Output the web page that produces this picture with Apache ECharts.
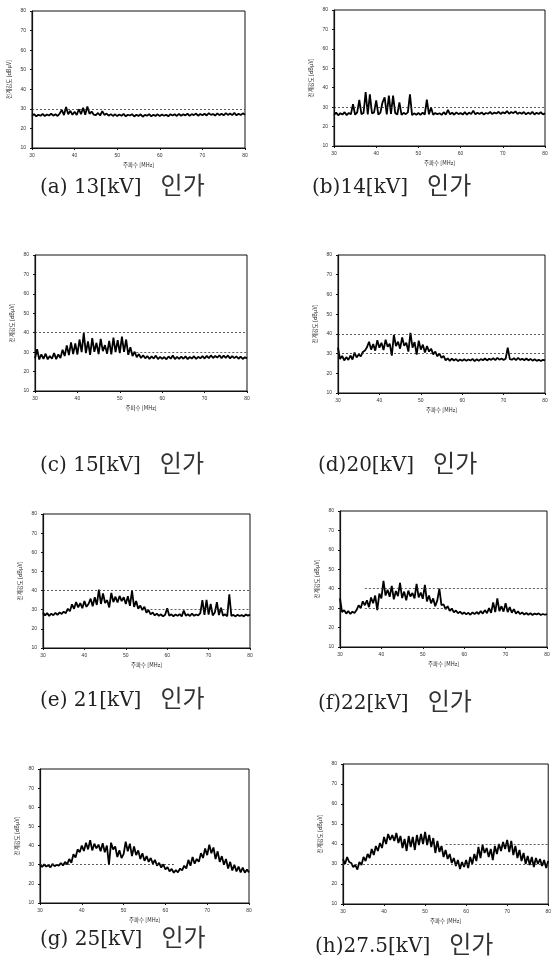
<!DOCTYPE html>
<html>
<head>
<meta charset="utf-8">
<script src="https://cdn.jsdelivr.net/npm/echarts@6/dist/echarts.min.js"></script>
<style>
html,body{margin:0;padding:0;background:#fff;}
#chart{width:554px;height:960px;}
</style>
</head>
<body>
<div id="chart"></div>
<script>
// Frequency sampling: 30 MHz to 80 MHz, step 0.5 MHz
var freqStart = 30, freqStep = 0.5;
var xTicks = [30, 40, 50, 60, 70, 80];
var yTicks = [10, 20, 30, 40, 50, 60, 70, 80];
var yName = '전계강도 [dBμV]';
var xName = '주파수 [MHz]';

var captionLabels = ['(a) 13[kV]', '(b)14[kV]', '(c) 15[kV]', '(d)20[kV]',
                     '(e) 21[kV]', '(f)22[kV]', '(g) 25[kV]', '(h)27.5[kV]'];
var captionSuffix = '인가';

var kv13 = [26.4,27.3,26.2,27.0,26.5,27.4,26.3,27.1,26.6,27.5,
  26.5,27.2,26.4,27.6,29.5,26.8,31.0,27.2,29.0,27.0,
  28.5,26.9,29.8,27.3,30.5,27.0,31.2,27.5,28.6,27.0,
  26.8,27.9,26.6,28.8,26.9,27.6,26.5,27.3,26.4,27.2,
  26.3,27.1,26.5,27.4,26.2,27.0,26.6,27.3,26.1,27.0,
  26.4,27.2,26.0,26.9,26.5,27.3,26.2,27.0,26.4,27.2,
  26.3,27.1,26.5,27.0,26.2,27.3,26.6,27.2,26.4,27.4,
  26.5,27.2,26.7,27.5,26.4,27.3,26.8,27.6,26.5,27.4,
  26.7,27.5,26.6,27.8,26.9,27.4,26.6,27.7,26.8,27.5,
  26.7,27.8,26.9,27.6,26.8,27.9,26.7,27.5,26.9,27.7,
  27.0];
var kv14 = [26.0,27.2,25.8,26.9,26.2,27.4,25.9,27.0,26.3,31.5,
  26.1,27.3,33.7,26.4,27.0,37.8,26.2,36.6,26.8,27.3,
  33.5,26.1,27.2,32.5,35.0,26.3,36.0,26.5,36.0,27.0,
  26.2,32.5,26.0,27.1,26.4,27.3,36.6,25.9,26.8,26.1,
  27.0,26.0,27.2,26.2,33.9,26.3,29.8,26.1,27.0,26.3,
  26.9,26.0,27.4,26.2,28.6,26.3,27.1,26.1,27.3,26.4,
  27.0,26.2,27.4,26.1,27.2,26.4,28.2,26.3,27.1,26.5,
  27.3,26.2,27.0,26.6,27.5,26.4,27.2,26.7,27.6,26.5,
  27.4,26.8,28.0,26.6,27.5,26.9,27.8,26.5,27.3,26.6,
  27.5,26.3,27.2,26.4,27.6,26.2,27.1,26.5,27.4,26.3,
  26.8];
var kv15 = [26.8,31.5,26.2,28.9,26.5,29.2,26.3,28.0,26.6,29.5,
  26.4,28.8,27.0,31.2,28.0,33.5,28.5,35.0,29.0,34.5,
  28.8,36.5,30.0,39.8,29.5,35.5,28.6,37.2,30.2,34.8,
  29.0,36.8,30.5,33.6,29.2,35.8,28.8,37.5,30.0,36.2,
  29.5,38.0,30.2,36.5,28.6,32.5,28.0,30.2,27.4,29.0,
  27.0,28.4,26.8,28.0,26.5,27.8,26.7,28.2,26.4,27.6,
  26.5,27.5,26.3,27.8,26.6,28.3,26.4,27.6,26.5,27.7,
  26.6,27.8,26.4,27.5,26.7,27.9,26.5,27.6,26.8,28.0,
  26.7,28.1,26.9,28.3,27.0,28.0,27.2,28.4,26.9,28.2,
  27.1,28.3,26.8,28.0,26.9,27.8,26.6,27.7,26.5,27.4,
  26.8];
var kv20 = [33.0,27.2,28.8,26.5,28.2,26.8,29.0,27.0,30.5,28.0,
  29.5,28.6,30.8,31.5,33.2,36.0,32.0,34.8,31.5,36.8,
  33.0,35.5,31.8,37.0,33.5,35.0,29.0,39.5,33.8,36.0,
  32.5,38.2,34.0,35.5,31.0,40.5,33.0,35.8,29.5,36.5,
  32.0,34.5,30.5,33.8,31.0,32.5,29.5,31.0,28.6,30.0,
  27.8,28.8,26.6,27.6,26.3,27.4,26.5,27.2,26.2,27.0,
  26.4,27.1,26.3,27.0,26.5,27.3,26.2,27.1,26.4,27.2,
  26.6,27.5,26.5,27.4,26.8,27.6,26.7,27.8,26.9,27.5,
  26.8,27.4,33.0,27.2,26.9,27.6,26.7,27.8,26.8,27.4,
  26.6,27.5,26.5,27.3,26.4,27.1,26.3,26.9,26.2,26.8,
  26.5];
var kv21 = [28.5,27.0,28.2,26.8,27.9,27.1,28.4,27.3,28.6,27.8,
  29.0,28.2,30.5,29.2,32.8,30.5,34.0,31.2,33.5,30.8,
  34.5,31.5,33.0,35.8,31.8,36.5,32.5,40.5,33.0,38.5,
  33.5,35.0,31.2,38.8,34.0,36.8,33.8,37.2,34.5,36.5,
  33.0,37.0,32.0,39.8,31.5,34.5,30.5,32.2,29.8,31.5,
  28.5,29.8,27.6,28.6,27.0,28.0,26.8,27.6,26.5,27.4,
  30.8,26.9,27.6,26.6,27.5,26.8,27.7,26.5,29.5,26.9,
  27.6,26.7,28.0,26.8,27.5,27.0,28.2,35.0,27.3,35.2,
  27.5,33.0,27.0,28.5,34.0,27.2,31.0,26.8,27.6,26.6,
  38.0,26.8,27.3,26.5,27.4,26.7,27.2,26.5,27.5,26.9,
  27.4];
var kv22 = [35.0,28.0,29.0,27.2,28.5,27.0,28.2,27.5,29.0,31.5,
  30.0,33.5,31.5,34.0,30.5,35.5,32.5,36.5,29.0,37.5,
  35.0,44.0,36.5,39.5,35.8,41.5,34.5,38.8,36.2,43.0,
  35.2,38.5,34.0,39.0,36.0,37.8,35.0,42.5,35.5,38.0,
  34.8,42.0,33.5,36.5,32.5,35.0,31.0,34.0,40.0,31.5,
  32.0,29.5,31.0,28.6,29.8,27.8,28.8,27.4,28.2,27.0,
  27.8,26.8,27.6,26.6,27.8,26.9,28.0,27.0,28.5,27.2,
  29.0,27.4,30.0,27.6,33.0,28.0,35.0,28.5,31.0,28.2,
  32.5,28.0,30.5,27.6,29.5,27.2,28.4,26.9,27.8,26.7,
  27.5,26.6,27.4,26.5,27.2,26.8,27.3,26.5,27.0,26.6,
  26.9];
var kv25 = [30.0,28.8,30.2,29.0,29.8,28.6,30.4,29.2,30.0,29.5,
  30.8,29.6,31.5,30.2,33.0,31.0,35.5,33.8,38.0,36.5,
  40.0,37.2,41.5,38.0,42.8,37.5,41.0,38.5,40.5,37.0,
  41.2,36.5,40.0,30.0,41.5,38.0,39.5,34.0,37.5,33.5,
  35.5,42.0,37.0,41.0,34.5,39.5,35.0,37.5,33.0,36.0,
  32.0,34.5,31.5,33.5,30.5,32.5,29.5,31.0,28.5,30.2,
  27.5,28.8,26.5,27.8,25.8,27.2,26.0,28.0,27.0,29.5,
  28.0,32.5,29.5,34.0,30.5,33.0,31.5,36.0,33.5,38.5,
  35.0,40.5,36.0,39.0,33.0,37.0,31.5,34.5,30.0,33.0,
  28.0,31.5,27.0,30.0,26.5,29.0,26.0,28.5,25.8,27.5,
  26.0];
var kv275 = [32.5,30.0,33.5,31.0,30.5,28.5,29.5,27.2,31.0,29.5,
  33.5,31.5,35.0,33.0,37.5,34.5,39.0,36.5,40.5,38.0,
  43.5,40.0,45.0,42.0,44.5,41.5,45.5,40.5,44.0,38.0,
  42.5,36.5,44.0,38.5,43.5,37.0,44.5,39.5,45.0,40.0,
  46.0,39.5,44.5,38.5,43.0,35.5,41.5,36.0,39.0,33.5,
  37.0,32.5,35.0,30.5,33.0,29.0,32.0,27.5,31.0,28.5,
  32.0,28.0,33.5,30.0,35.0,31.5,38.5,33.0,39.5,35.5,
  38.0,33.5,37.5,32.0,39.0,35.0,40.0,36.5,41.0,37.5,
  42.0,36.0,41.5,34.5,39.0,33.0,37.0,31.5,35.5,30.0,
  34.0,29.5,33.5,28.5,33.0,30.0,32.5,29.0,32.0,28.0,
  31.5];

var seriesValues = [kv13, kv14, kv15, kv20, kv21, kv22, kv25, kv275];

// dashed reference levels per panel: [level, fromMHz, toMHz]
var refLines = [
  [[30, 30, 80]],
  [[30, 30, 80]],
  [[40, 30, 80], [30, 52, 80]],
  [[40, 30, 80], [30, 30, 80]],
  [[40, 30, 80], [30, 55, 80]],
  [[40, 36, 80], [30, 36, 56]],
  [[30, 30, 62]],
  [[40, 55, 80], [30, 30, 80]]
];

// layout (px)
var grids = [
  {left: 32, top: 11, width: 213, height: 137},
  {left: 334, top: 10, width: 211, height: 136},
  {left: 35, top: 255, width: 212, height: 136},
  {left: 338, top: 255, width: 207, height: 138},
  {left: 43, top: 514, width: 207, height: 134},
  {left: 340, top: 511, width: 207, height: 136},
  {left: 40, top: 769, width: 209, height: 134},
  {left: 343, top: 764, width: 210, height: 140}
];
var capPos = [[40, 187], [312, 187], [40, 465], [318, 465], [40, 700], [318, 703], [40, 939], [315, 946]];

var option = {
  animation: false,
  backgroundColor: '#fff',
  grid: [], xAxis: [], yAxis: [], series: [], graphic: []
};

for (var i = 0; i < 8; i++) {
  var g = grids[i];
  option.grid.push({left: g.left, top: g.top, width: g.width, height: g.height,
    show: true, borderColor: '#111', borderWidth: 1, backgroundColor: '#fff'});
  option.xAxis.push({
    type: 'value', gridIndex: i, min: xTicks[0], max: xTicks[xTicks.length - 1], interval: 10,
    name: xName, nameLocation: 'middle', nameGap: 14,
    nameTextStyle: {fontSize: 5.5, color: '#222', fontFamily: 'Noto Sans CJK KR'},
    axisLine: {lineStyle: {color: '#111', width: 1.2}},
    axisTick: {show: true, length: 2, lineStyle: {color: '#111'}},
    axisLabel: {fontSize: 5, color: '#333', margin: 5},
    splitLine: {show: false}
  });
  option.yAxis.push({
    type: 'value', gridIndex: i, min: yTicks[0], max: yTicks[yTicks.length - 1], interval: 10,
    name: yName, nameLocation: 'middle', nameGap: 20, nameRotate: 90,
    nameTextStyle: {fontSize: 5.5, color: '#222', fontFamily: 'Noto Sans CJK KR'},
    axisLine: {lineStyle: {color: '#111', width: 1.2}},
    axisTick: {show: true, length: 2, lineStyle: {color: '#111'}},
    axisLabel: {fontSize: 5, color: '#333', margin: 6},
    splitLine: {show: false}
  });
  var pts = [];
  var vals = seriesValues[i];
  for (var k = 0; k < vals.length; k++) pts.push([freqStart + k * freqStep, vals[k]]);
  var ml = [];
  refLines[i].forEach(function (r) {
    ml.push([{coord: [r[1], r[0]]}, {coord: [r[2], r[0]]}]);
  });
  option.series.push({
    type: 'line', xAxisIndex: i, yAxisIndex: i, data: pts, showSymbol: false,
    lineStyle: {color: '#000', width: 1.8}, z: 3,
    markLine: {silent: true, symbol: 'none', label: {show: false},
      lineStyle: {color: '#333', width: 0.8, type: [2, 2]}, data: ml}
  });
  option.graphic.push({
    type: 'text', left: capPos[i][0], top: capPos[i][1] - 14,
    style: {
      text: '{l|' + captionLabels[i] + '}{l|   }{k|' + captionSuffix + '}',
      rich: {
        l: {font: '20px "DejaVu Serif"', fill: '#222', verticalAlign: 'middle', lineHeight: 28},
        k: {font: '24px "Noto Sans CJK KR"', fill: '#333', verticalAlign: 'middle', lineHeight: 28, padding: [0, 0, 5, 0]}
      }
    }
  });
}

var chart = echarts.init(document.getElementById('chart'), null, {renderer: 'canvas'});
chart.setOption(option);
</script>
</body>
</html>
